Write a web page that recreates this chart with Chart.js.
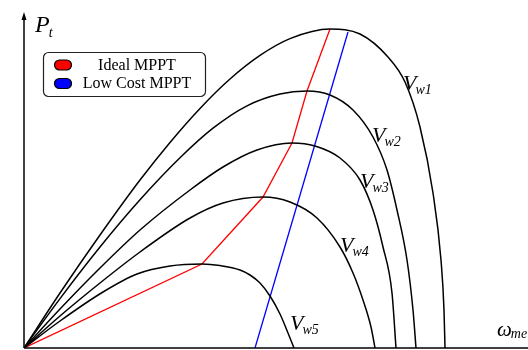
<!DOCTYPE html>
<html>
<head>
<meta charset="utf-8">
<script src="https://cdn.jsdelivr.net/npm/chart.js@4"></script>
<style>
  html, body { margin: 0; padding: 0; background: #fff; }
  #wrap { width: 528px; height: 350px; }
</style>
</head>
<body>
<div id="wrap"><canvas id="myChart" width="528" height="350"></canvas></div>
<script>
// rotor speed / turbine power samples for each wind speed
const omegaVw1 = [0, 18, 38, 58, 73, 88, 103, 118, 133, 153, 168, 182, 190.5, 198, 204.5, 208.5, 210, 210.5];
const powerVw1 = [0, 27.5, 56.5, 84, 102.8, 119.8, 134.5, 146.3, 154.7, 159.5, 157, 145.5, 133, 110.5, 77.5, 44, 19, 0];

const omegaVw2 = [0, 18, 38, 58, 78, 94.5, 111.5, 128, 141.5, 153, 164.5, 174.5, 181.5, 186.5, 191.5, 194.5, 196];
const powerVw2 = [0, 24.7, 50.5, 74.1, 95.1, 109.9, 121.1, 127, 128.5, 126.5, 119, 105.5, 89, 69, 44, 19, 0];

const omegaVw3 = [0, 18, 38, 58, 83, 99.5, 116.5, 134, 145.5, 158, 168, 174.5, 179.5, 184, 186];
const powerVw3 = [0, 19.5, 40, 59, 79, 90.5, 99, 102.5, 101, 95, 84, 69, 50.5, 27.5, 0];

const omegaVw4 = [0, 18, 38, 58, 83, 99.5, 119.5, 133, 146.5, 158, 164.5, 169.5, 173.5, 175.5];
const powerVw4 = [0, 16, 32.5, 48, 65, 72.5, 75.5, 73, 65, 50.5, 37.5, 24, 10.5, 0];

const omegaVw5 = [0, 18, 39.5, 56.5, 73, 89, 98, 108, 113, 118, 123, 128, 132, 135];
const powerVw5 = [0, 13.5, 28, 37, 41, 42, 41.2, 39, 36.5, 32.5, 26, 17, 7.5, 0];

// tracking trajectories
const omegaIdeal = [0, 89, 119.5, 134, 141.5, 153];
const powerIdeal = [0, 42, 75.5, 102.5, 128.5, 159.5];

const omegaLowCost = [115.5, 162];
const powerLowCost = [0, 158];

const curveNames = ["Vw1", "Vw2", "Vw3", "Vw4", "Vw5"];
const legendNames = ["Ideal MPPT", "Low Cost MPPT"];

function toPoints(xs, ys) {
  return xs.map(function(x, i) { return { x: x, y: ys[i] }; });
}

const curveSets = [
  [omegaVw1, powerVw1],
  [omegaVw2, powerVw2],
  [omegaVw3, powerVw3],
  [omegaVw4, powerVw4],
  [omegaVw5, powerVw5]
];

const datasets = curveSets.map(function(c, i) {
  return {
    label: curveNames[i],
    data: toPoints(c[0], c[1]),
    showLine: true,
    borderColor: "#000",
    borderWidth: 1.5,
    pointRadius: 0,
    cubicInterpolationMode: "monotone"
  };
});

datasets.push({
  label: legendNames[0],
  data: toPoints(omegaIdeal, powerIdeal),
  showLine: true,
  borderColor: "#ff0000",
  borderWidth: 1.3,
  pointRadius: 0,
  tension: 0
});
datasets.push({
  label: legendNames[1],
  data: toPoints(omegaLowCost, powerLowCost),
  showLine: true,
  borderColor: "#0000ff",
  borderWidth: 1.3,
  pointRadius: 0,
  tension: 0
});

// label with a smaller italic subscript
function subLabel(ctx, main, sub, x, y, mainSize, subSize, subDrop) {
  ctx.font = "italic " + mainSize + "px 'Liberation Serif'";
  ctx.fillText(main, x, y);
  const w = ctx.measureText(main).width;
  ctx.font = "italic " + subSize + "px 'Liberation Serif'";
  ctx.fillText(sub, x + w - 1, y + subDrop);
}

const decorations = {
  id: "decorations",
  afterDraw: function(chart) {
    const ctx = chart.ctx;
    const a = chart.chartArea;
    ctx.save();

    // axes with arrow heads
    ctx.strokeStyle = "#000";
    ctx.fillStyle = "#000";
    ctx.lineWidth = 1.5;
    ctx.beginPath();
    ctx.moveTo(a.left, a.bottom);
    ctx.lineTo(a.left, a.top + 4);
    ctx.moveTo(a.left, a.bottom);
    ctx.lineTo(a.right + 4, a.bottom);
    ctx.stroke();
    ctx.beginPath();
    ctx.moveTo(a.left, a.top);
    ctx.lineTo(a.left - 2.5, a.top + 8);
    ctx.lineTo(a.left + 2.5, a.top + 8);
    ctx.closePath();
    ctx.fill();

    // axis names and curve names
    ctx.textAlign = "left";
    ctx.textBaseline = "alphabetic";
    subLabel(ctx, "P", "t", 35, 32, 24, 14, 5);
    subLabel(ctx, "\u03c9", "me", 497, 336, 21, 14, 2);
    const spots = [[403, 90], [372, 142], [360, 188], [340, 252], [290, 330]];
    curveNames.forEach(function(n, i) {
      subLabel(ctx, "V", n.slice(1), spots[i][0], spots[i][1], 22, 14, 4);
    });

    // legend box
    ctx.lineWidth = 1.2;
    ctx.strokeStyle = "#222";
    ctx.fillStyle = "#fff";
    ctx.beginPath();
    ctx.roundRect(43.5, 52.5, 162, 44, 5);
    ctx.fill();
    ctx.stroke();
    const colors = ["#ff0000", "#0000ff"];
    const rows = [65, 83.5];
    ctx.font = "16px 'Liberation Serif'";
    ctx.textAlign = "center";
    legendNames.forEach(function(n, i) {
      ctx.beginPath();
      ctx.roundRect(54.5, rows[i] - 5, 17, 10, 5);
      ctx.fillStyle = colors[i];
      ctx.fill();
      ctx.strokeStyle = "#000";
      ctx.stroke();
      ctx.fillStyle = "#000";
      ctx.fillText(n, 137, rows[i] + 4.5);
    });
    ctx.restore();
  }
};

new Chart(document.getElementById("myChart"), {
  type: "scatter",
  data: { datasets: datasets },
  options: {
    responsive: false,
    animation: false,
    devicePixelRatio: 1,
    layout: { padding: { left: 24, top: 12, right: 0, bottom: 2 } },
    scales: {
      x: { type: "linear", min: 0, max: 252, display: false },
      y: { type: "linear", min: 0, max: 168, display: false }
    },
    plugins: {
      legend: { display: false },
      tooltip: { enabled: false }
    }
  },
  plugins: [decorations]
});
</script>
</body>
</html>
